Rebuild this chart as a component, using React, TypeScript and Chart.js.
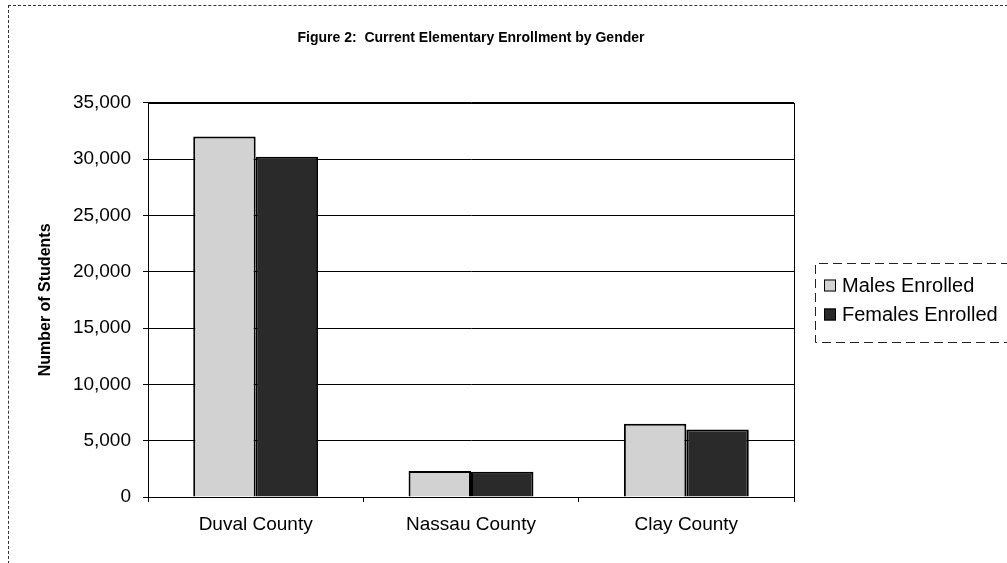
import React, { useEffect, useRef } from 'react';
import { Chart, registerables } from 'chart.js';

Chart.register(...registerables);

const chartTitle = 'Figure 2:  Current Elementary Enrollment by Gender';
const yAxisTitle = 'Number of Students';
const categories = ['Duval County', 'Nassau County', 'Clay County'];
const seriesLabels = ['Males Enrolled', 'Females Enrolled'];
const malesEnrolled = [32000, 2300, 6500];
const femalesEnrolled = [30200, 2250, 6000];
const yMin = 0;
const yMax = 35000;
const yStep = 5000;

const FONT = "'Liberation Sans', Arial, Helvetica, sans-serif";

const plotBorderPlugin = {
  id: 'plotBorder',
  beforeDatasetsDraw(chart: any) {
    const { ctx, chartArea } = chart;
    ctx.save();
    ctx.strokeStyle = '#000';
    ctx.lineWidth = 1;
    ctx.strokeRect(
      Math.round(chartArea.left) + 0.5,
      Math.round(chartArea.top) + 0.5,
      Math.round(chartArea.right - chartArea.left),
      Math.round(chartArea.bottom - chartArea.top)
    );
    ctx.restore();
  },
};

const boxLegendPlugin = {
  id: 'boxLegend',
  afterDraw(chart: any) {
    const { ctx, chartArea } = chart;
    const left = Math.round(chartArea.right + 21);
    const cy = Math.round((chartArea.top + chartArea.bottom) / 2 + 0.5);
    const rowH = 29;
    const top = cy - 37;
    const bottom = cy + 42;
    ctx.save();
    ctx.setLineDash([9, 5]);
    ctx.strokeStyle = '#222';
    ctx.lineWidth = 1;
    ctx.beginPath();
    ctx.moveTo(chart.width + 2, top + 0.5);
    ctx.lineTo(left + 0.5, top + 0.5);
    ctx.lineTo(left + 0.5, bottom + 0.5);
    ctx.lineTo(chart.width + 2, bottom + 0.5);
    ctx.stroke();
    ctx.setLineDash([]);
    chart.data.datasets.forEach((ds: any, i: number) => {
      const y = cy - rowH / 2 + i * rowH;
      ctx.fillStyle = ds.backgroundColor;
      ctx.fillRect(left + 9, y - 6, 12, 12);
      ctx.strokeStyle = '#000';
      ctx.lineWidth = 1;
      ctx.strokeRect(left + 9.5, y - 5.5, 11, 11);
      ctx.fillStyle = '#000';
      ctx.font = `20px ${FONT}`;
      ctx.textBaseline = 'middle';
      ctx.textAlign = 'left';
      ctx.fillText(ds.label, left + 27, y + 1);
    });
    ctx.restore();
  },
};

export default function App() {
  const canvasRef = useRef<HTMLCanvasElement | null>(null);

  useEffect(() => {
    if (!canvasRef.current) return;
    const chart = new Chart(canvasRef.current, {
      type: 'bar',
      data: {
        labels: categories,
        datasets: [
          {
            label: seriesLabels[0],
            data: malesEnrolled,
            backgroundColor: '#d2d2d2',
            borderColor: '#000',
            borderWidth: 2,
            categoryPercentage: 0.58,
            barPercentage: 1,
          },
          {
            label: seriesLabels[1],
            data: femalesEnrolled,
            backgroundColor: '#2a2a2a',
            borderColor: '#000',
            borderWidth: 2,
            categoryPercentage: 0.58,
            barPercentage: 1,
          },
        ],
      },
      options: {
        animation: false,
        responsive: false,
        maintainAspectRatio: false,
        layout: { padding: { left: 0, right: 214, top: 0, bottom: 0 } },
        plugins: {
          legend: { display: false },
          tooltip: { enabled: false },
          title: {
            display: true,
            text: chartTitle,
            fullSize: false,
            color: '#000',
            font: { family: FONT, size: 14, weight: 'bold', lineHeight: 1.2 },
            padding: { top: 24, bottom: 56 },
          },
        },
        scales: {
          x: {
            afterFit: (scale: any) => {
              scale.height = 67;
            },
            grid: {
              display: true,
              offset: true,
              drawOnChartArea: false,
              drawTicks: true,
              tickLength: 5,
              color: '#000',
            },
            border: { display: true, color: '#000', width: 1 },
            ticks: {
              color: '#000',
              font: { family: FONT, size: 19 },
              padding: 11,
              maxRotation: 0,
            },
          },
          y: {
            min: yMin,
            max: yMax,
            afterFit: (scale: any) => {
              scale.width = 139;
            },
            grid: {
              color: '#000',
              lineWidth: 1,
              tickLength: 5,
            },
            border: { display: true, color: '#000', width: 1 },
            ticks: {
              stepSize: yStep,
              color: '#000',
              padding: 12,
              font: { family: FONT, size: 19 },
              callback: (v: any) => Number(v).toLocaleString('en-US'),
            },
            title: {
              display: true,
              text: yAxisTitle,
              color: '#000',
              font: { family: FONT, size: 16, weight: 'bold', lineHeight: 1.2 },
              padding: { top: 27, bottom: 0 },
            },
          },
        },
      },
      plugins: [plotBorderPlugin, boxLegendPlugin],
    });
    return () => chart.destroy();
  }, []);

  return (
    <div
      style={{
        position: 'fixed',
        left: 8,
        top: 5,
        width: 999,
        height: 558,
        borderTop: '1px dashed #333',
        borderLeft: '1px dashed #333',
        background: '#fff',
      }}
    >
      <canvas ref={canvasRef} width={999} height={558} style={{ display: 'block', width: 999, height: 558 }} />
    </div>
  );
}
